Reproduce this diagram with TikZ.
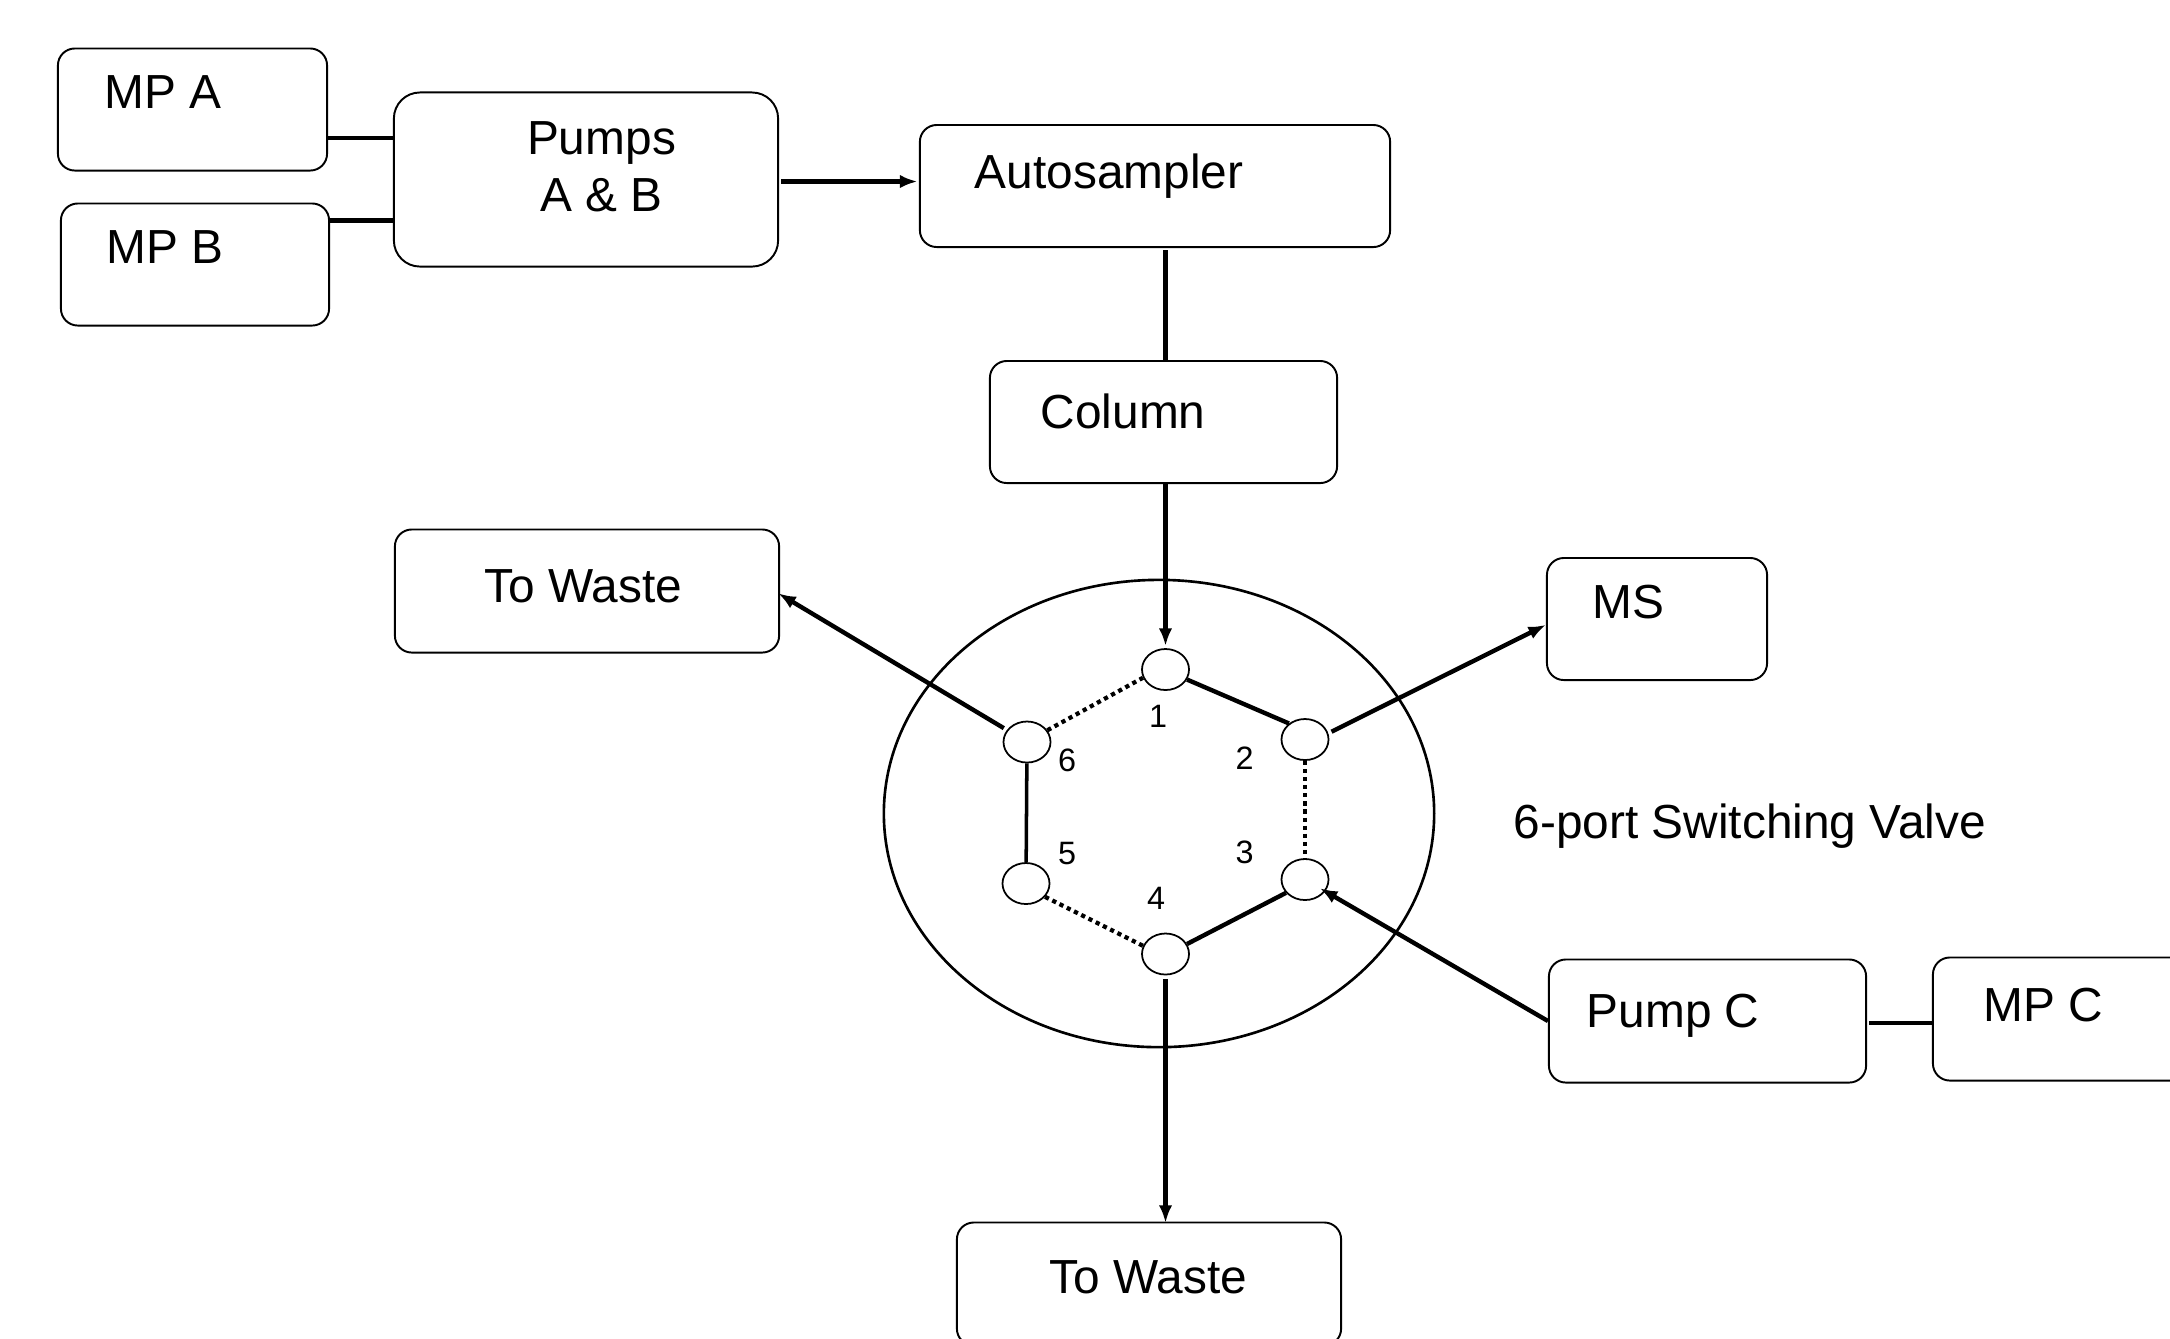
\documentclass[tikz,border=0pt]{standalone}
\usepackage{fontspec}
\setmainfont{Liberation Sans}
\usetikzlibrary{arrows.meta,shapes.geometric}

\begin{document}
\begin{tikzpicture}[x=0.01cm,y=-0.01cm,
    box/.style={draw, rectangle, rounded corners=4.8pt, line width=0.55pt, inner sep=0pt},
    boxtext/.style={font=\fontsize{13.6}{16.2}\selectfont, anchor=base west, inner sep=0pt},
    port/.style={draw, ellipse, line width=0.5pt, inner sep=0pt, minimum width=0.47cm, minimum height=0.41cm},
    portnum/.style={font=\fontsize{9.2}{11}\selectfont, anchor=base, inner sep=0pt},
    pipe/.style={line width=1.25pt},
    flow/.style={line width=1.25pt, -{Latex[length=5pt,width=3.8pt]}},
    dotline/.style={line width=1.2pt, dash pattern=on 1.2pt off 1.1pt}]
    \useasboundingbox (0,0) rectangle (2170,1338);

    % Boxes of the flow path
    \node[box, minimum width=2.69cm, minimum height=1.22cm] (mpa) at (192.5,109.5) {};
    \node[box, minimum width=2.68cm, minimum height=1.22cm] (mpb) at (195,264.5) {};
    \node[box, rounded corners=7.4pt, minimum width=3.84cm, minimum height=1.74cm] (pumps) at (586,179.5) {};
    \node[box, minimum width=4.7cm, minimum height=1.22cm] (autosampler) at (1155,186) {};
    \node[box, minimum width=3.47cm, minimum height=1.22cm] (column) at (1163.5,422) {};
    \node[box, minimum width=3.84cm, minimum height=1.23cm] (wasteleft) at (587,591) {};
    \node[box, minimum width=2.2cm, minimum height=1.22cm] (ms) at (1657,619) {};
    \node[box, minimum width=3.17cm, minimum height=1.23cm] (pumpc) at (1707.5,1021) {};
    \node[box, minimum width=2.97cm, minimum height=1.23cm] (mpc) at (2081.5,1019) {};
    \node[box, minimum width=3.84cm, minimum height=1.23cm] (wastedown) at (1149,1284) {};

    % Box texts
    \node[boxtext] (mpatext) at (103.5,108) {MP A};
    \node[boxtext] (mpbtext) at (105.5,263) {MP B};
    \node[boxtext, anchor=center, align=center] (pumpstext) at (601.5,166.5) {Pumps\\A \& B};
    \node[boxtext] (autosamplertext) at (974,188) {Autosampler};
    \node[boxtext] (columntext) at (1040,428) {Column};
    \node[boxtext] (wastelefttext) at (484,602) {To Waste};
    \node[boxtext] (mstext) at (1591.5,618) {MS};
    \node[boxtext] (valvetext) at (1513,838) {6-port Switching Valve};
    \node[boxtext] (pumpctext) at (1586,1027) {Pump C};
    \node[boxtext] (mpctext) at (1982.5,1021) {MP C};
    \node[boxtext] (wastedowntext) at (1049,1293) {To Waste};

    % Valve body and its six ports
    \node[draw, ellipse, line width=0.75pt, inner sep=0pt, minimum width=5.5cm, minimum height=4.67cm] (valve) at (1159,813.5) {};
    \foreach \n/\x/\y/\lx/\ly in {1/1165.5/669.5/1158/727, 2/1305/739.5/1244.5/769, 3/1305/879.5/1244.5/863,
        4/1165.5/954/1156/909, 5/1026/883.5/1067/864, 6/1027/742/1067/771} {
        \node[port] (p\n) at (\x,\y) {};
        \node[portnum] (num\n) at (\lx,\ly) {\n};
    }

    % Heights of the side connectors
    \coordinate (lineab) at (0,138);
    \coordinate (linebb) at (0,220.5);
    \coordinate (linesampler) at (0,181.5);
    \coordinate (linec) at (0,1023);

    % Connectors between the boxes
    \draw[pipe] (mpa.east |- lineab) -- (pumps.west |- lineab);
    \draw[pipe] (mpb.east |- linebb) -- (pumps.west |- linebb);
    \draw[flow, shorten <=0.6pt, shorten >=0.4pt] (pumps.east |- linesampler) -- (autosampler.west |- linesampler);
    \draw[pipe, shorten <=0.7pt] (p1 |- autosampler.south) -- (p1 |- column.north);
    \draw[flow, shorten >=0.6pt] (p1 |- column.south) -- (p1.north);
    \draw[pipe, shorten <=0.5pt] (pumpc.east |- linec) -- (mpc.west |- linec);

    % Connectors to and from the ports
    \draw[flow, shorten <=1pt, shorten >=-0.6pt] (p6) -- (wasteleft.-1.4);
    \draw[flow, shorten <=1pt] (p2.15) -- (ms.183);
    \draw[flow, shorten >=-1.8pt] (pumpc.west) -- (p3);
    \draw[flow, shorten <=1pt, shorten >=-0.4pt] (p4.south) -- (p4 |- wastedown.north);

    % Links inside the valve
    \draw[pipe] (p1.-25) -- (p2.135);
    \draw[pipe] (p3.-145) -- (p4.25);
    \draw[pipe, line width=1pt] (p6) -- (p5);
    \draw[dotline] (p6.30) -- (p1.200);
    \draw[dotline] (p2) -- (p3);
    \draw[dotline] (p5.-35) -- (p4.160);
\end{tikzpicture}
\end{document}
